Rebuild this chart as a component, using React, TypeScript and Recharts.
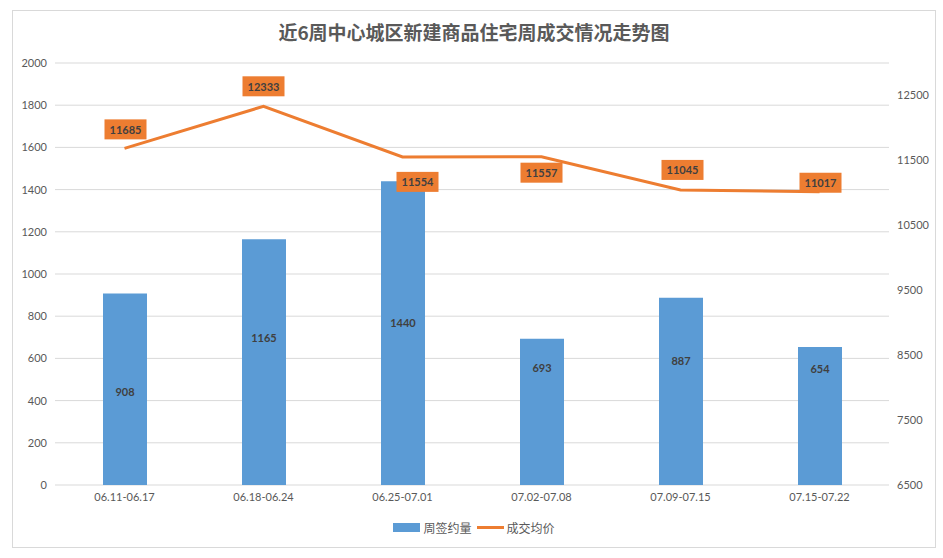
import {
  ComposedChart,
  Bar,
  Line,
  XAxis,
  YAxis,
  CartesianGrid,
  Legend,
  LabelList,
} from 'recharts';

const weeks = ['06.11-06.17', '06.18-06.24', '06.25-07.01', '07.02-07.08', '07.09-07.15', '07.15-07.22'];
const signed = [908, 1165, 1440, 693, 887, 654];
const avgPrice = [11685, 12333, 11554, 11557, 11045, 11017];
const leftTicks = [0, 200, 400, 600, 800, 1000, 1200, 1400, 1600, 1800, 2000];
const rightTicks = [6500, 7500, 8500, 9500, 10500, 11500, 12500];

const data = weeks.map((w, i) => ({ week: w, signed: signed[i], price: avgPrice[i] }));

const BLUE = '#5B9BD5';
const ORANGE = '#ED7D31';
const TXT = '#595959';
const FONT = 'Lato, "Noto Sans CJK SC", sans-serif';

// where each price tag sits relative to its point (Excel placed them by hand)
const tagShift: Array<[number, number]> = [
  [1, -19],
  [0, -20],
  [15, 25],
  [0, 16],
  [2, -20],
  [1, -9],
];

// bar value labels were nudged too, vertical shift from bar middle
const barShift = [2, -25, -11, -44, -31, -48];

const PriceTag = (props: any) => {
  const { x, y, value, index } = props;
  const [dx, dy] = tagShift[index] || [0, -18];
  const cx = x + dx;
  const cy = y + dy;
  return (
    <g>
      <rect x={cx - 21} y={cy - 10} width={42} height={20} fill={ORANGE} />
      <text
        x={cx}
        y={cy}
        textAnchor="middle"
        dominantBaseline="central"
        fontSize={11}
        fontWeight={700}
        fill="#404040"
        fontFamily={FONT}
      >
        {value}
      </text>
    </g>
  );
};

const BarTag = (props: any) => {
  const { x, y, width, height, value, index } = props;
  return (
    <text
      x={x + width / 2}
      y={y + height / 2 + (barShift[index] || 0)}
      textAnchor="middle"
      dominantBaseline="central"
      fontSize={11}
      fontWeight={700}
      fill="#404040"
      fontFamily={FONT}
    >
      {value}
    </text>
  );
};

const LegendBox = () => (
  <div
    style={{
      display: 'flex',
      justifyContent: 'center',
      alignItems: 'center',
      fontSize: 12,
      color: TXT,
      fontFamily: FONT,
      paddingTop: 10,
    }}
  >
    <span style={{ width: 27, height: 9, background: BLUE, display: 'inline-block', marginRight: 3 }} />
    <span>周签约量</span>
    <span style={{ width: 27, height: 3, background: ORANGE, display: 'inline-block', margin: '0 3px 0 5px' }} />
    <span>成交均价</span>
  </div>
);

export default function App() {
  return (
    <div
      style={{
        position: 'absolute',
        left: 12,
        top: 10,
        width: 924,
        height: 538,
        border: '1px solid #D9D9D9',
        boxSizing: 'border-box',
        background: '#fff',
        fontFamily: FONT,
      }}
    >
      <div
        style={{
          position: 'absolute',
          top: 7,
          width: '100%',
          textAlign: 'center',
          fontSize: 19,
          fontWeight: 700,
          color: TXT,
          fontFamily: '"Noto Sans CJK SC", sans-serif',
        }}
      >
        近6周中心城区新建商品住宅周成交情况走势图
      </div>
      <ComposedChart
        width={922}
        height={536}
        data={data}
        margin={{ top: 52, right: 0, left: 0, bottom: 0 }}
      >
        <CartesianGrid yAxisId="left" stroke="#D9D9D9" vertical={false} />
        <XAxis
          dataKey="week"
          axisLine={false}
          tickLine={false}
          height={24}
          tick={{ fontSize: 11, fill: TXT, fontFamily: FONT }}
        />
        <YAxis
          yAxisId="left"
          domain={[0, 2000]}
          ticks={leftTicks}
          width={42}
          axisLine={false}
          tickLine={false}
          tick={{ fontSize: 11, fill: TXT, fontFamily: FONT }}
        />
        <YAxis
          yAxisId="right"
          orientation="right"
          domain={[6500, 13000]}
          ticks={rightTicks}
          width={46}
          axisLine={false}
          tickLine={false}
          tick={{ fontSize: 11, fill: TXT, fontFamily: FONT }}
        />
        <Legend verticalAlign="bottom" height={38} content={<LegendBox />} />
        <Bar yAxisId="left" dataKey="signed" name="周签约量" fill={BLUE} barSize={44} isAnimationActive={false}>
          <LabelList dataKey="signed" content={<BarTag />} />
        </Bar>
        <Line
          yAxisId="right"
          dataKey="price"
          name="成交均价"
          stroke={ORANGE}
          strokeWidth={3}
          dot={false}
          activeDot={false}
          isAnimationActive={false}
        >
          <LabelList dataKey="price" content={<PriceTag />} />
        </Line>
      </ComposedChart>
    </div>
  );
}
